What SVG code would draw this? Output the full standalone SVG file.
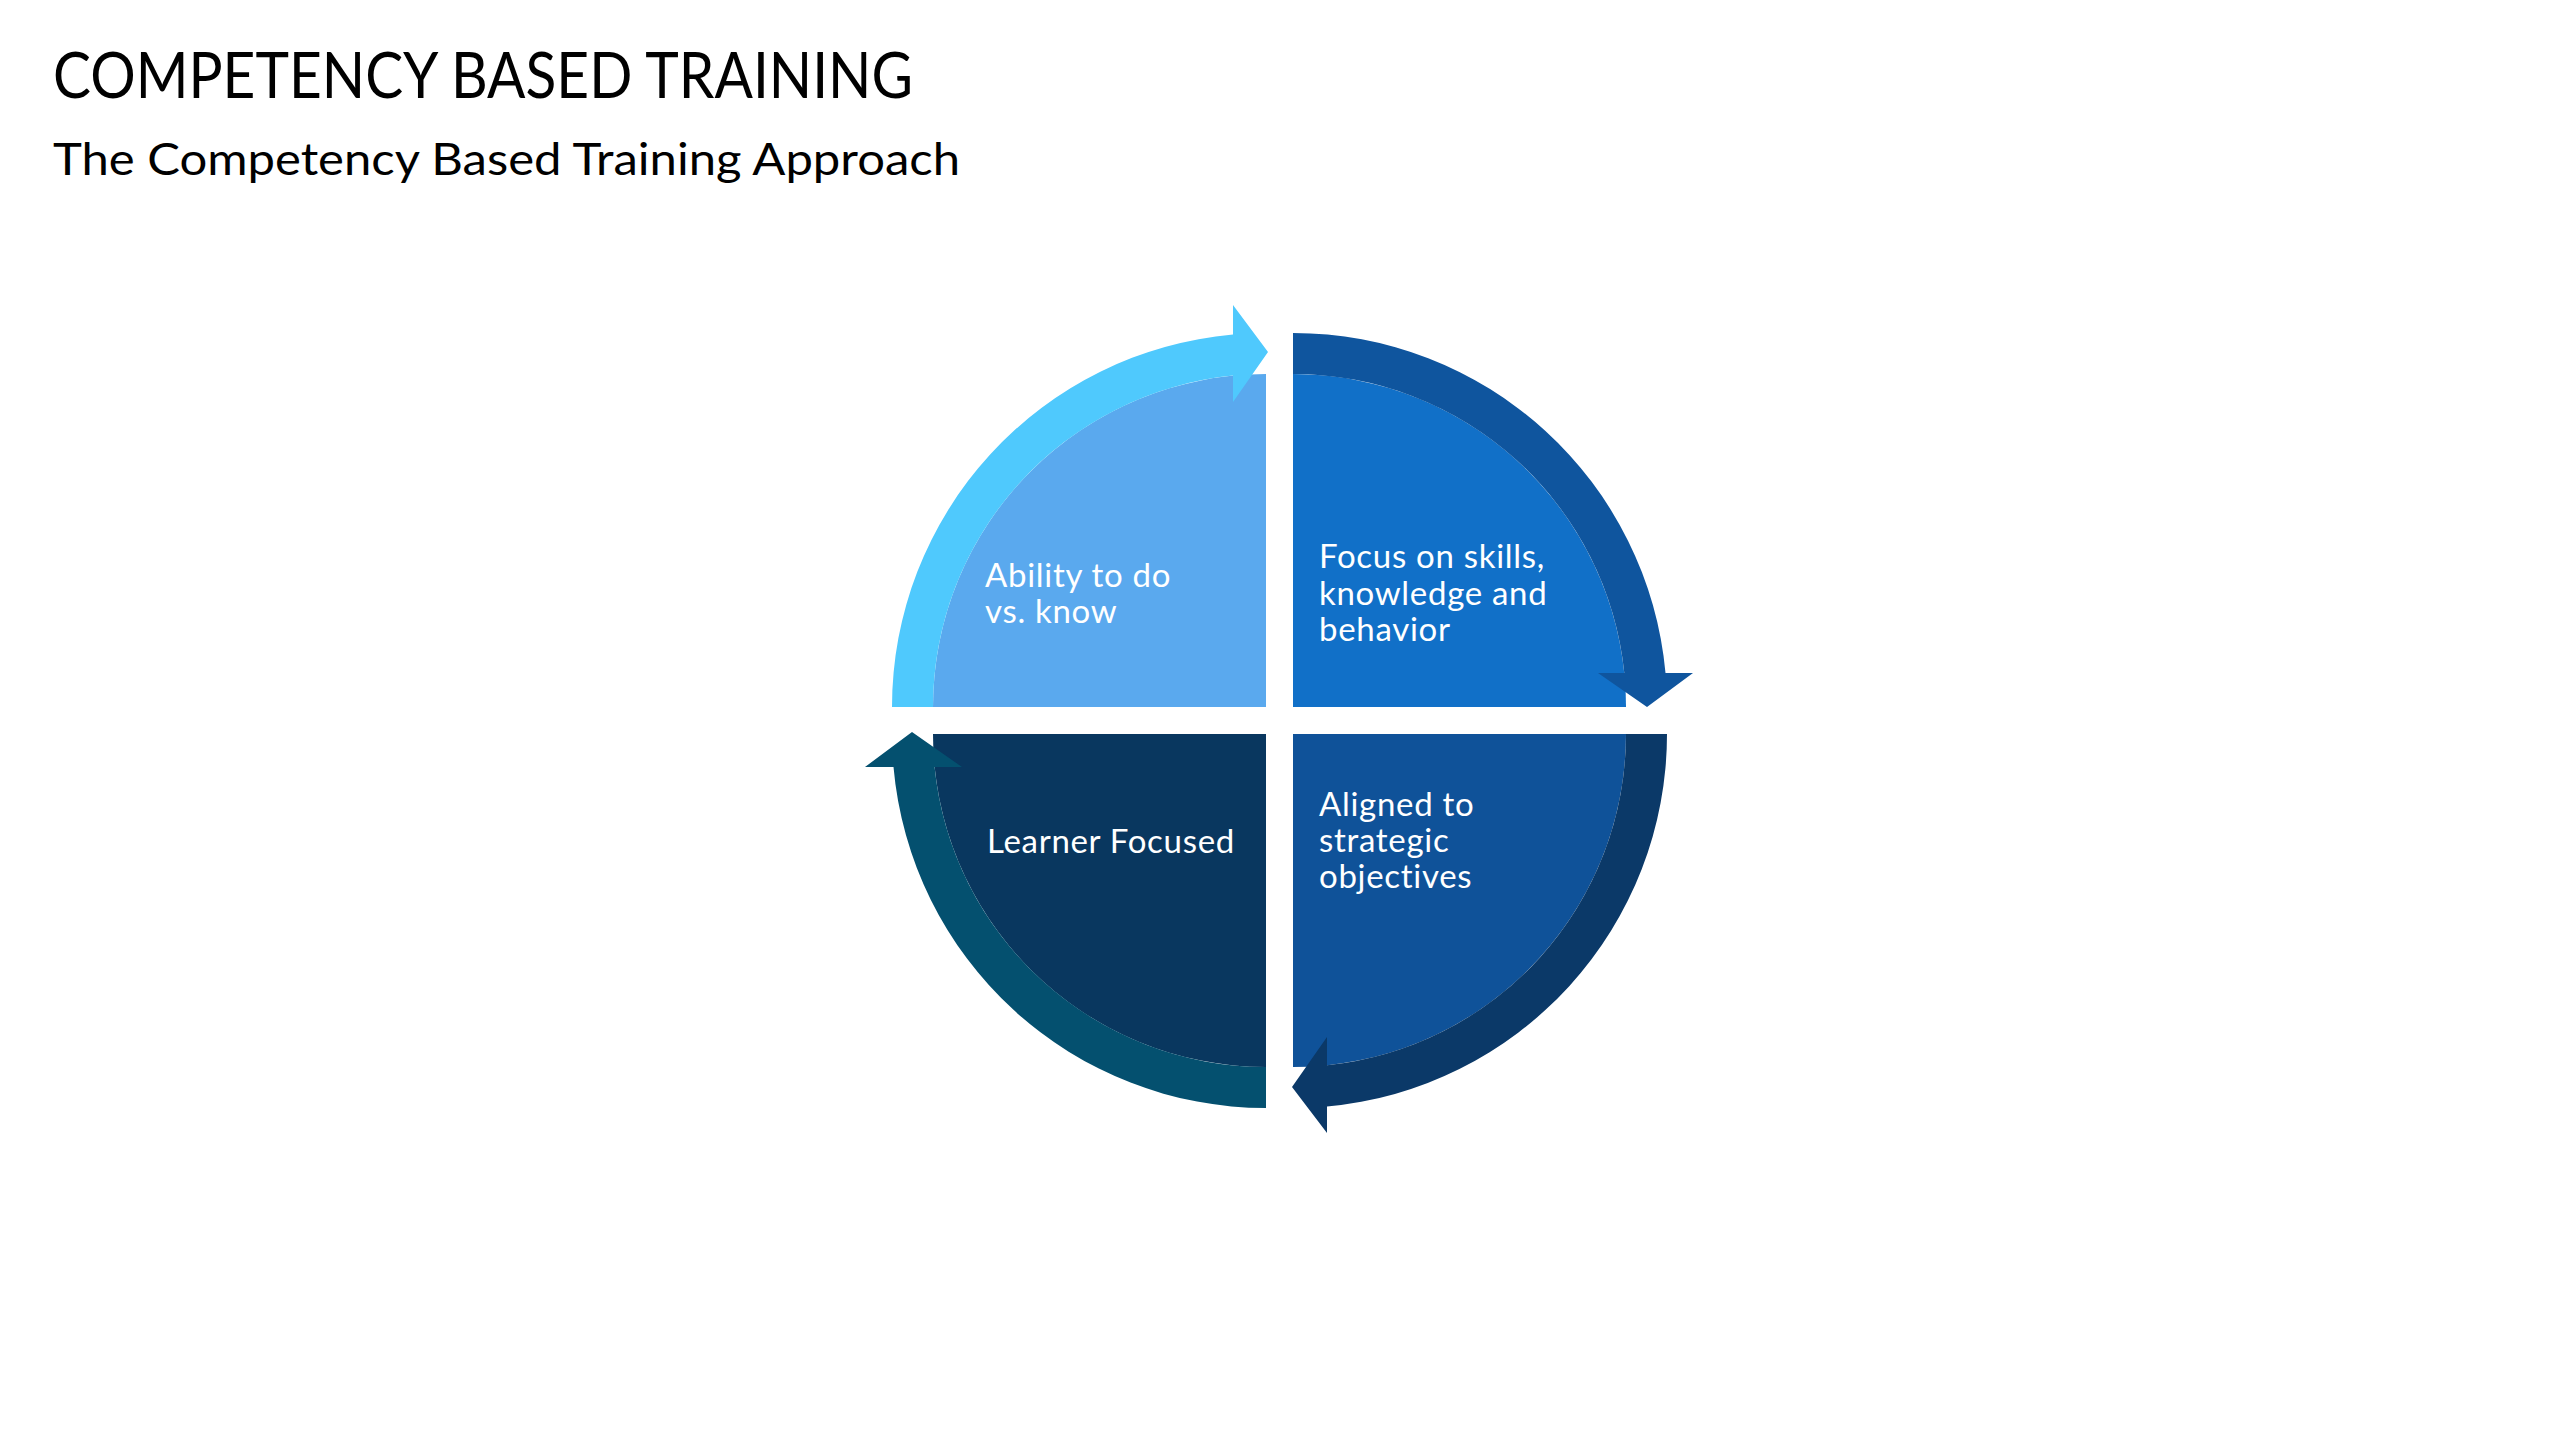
<svg xmlns="http://www.w3.org/2000/svg" width="2560" height="1440" viewBox="0 0 2560 1440">
<style>
.t{font-family:"Lato","Carlito","Liberation Sans",sans-serif;fill:#000}
.lbl{font-family:"Lato","Carlito","Liberation Sans",sans-serif;font-size:33px;letter-spacing:0.7px;fill:#fff}
</style>
<rect width="2560" height="1440" fill="#fff"/>
<text class="t" x="53" y="98" font-size="64" textLength="860" lengthAdjust="spacingAndGlyphs">COMPETENCY BASED TRAINING</text>
<text class="t" x="53" y="175" font-size="45" textLength="907" lengthAdjust="spacingAndGlyphs">The Competency Based Training Approach</text>

<g id="node-ability">
<path d="M 1266 707 L 933 707 A 333 333 0 0 1 1266 374 Z" fill="#5AA9EE"/>
<text class="lbl" x="985" y="587">Ability to do</text>
<text class="lbl" x="985" y="623">vs. know</text>
</g>
<g id="node-focus">
<path d="M 1293 707 L 1293 374 A 333 333 0 0 1 1626 707 Z" fill="#1170C8"/>
<text class="lbl" x="1319" y="568">Focus on skills,</text>
<text class="lbl" x="1319" y="605">knowledge and</text>
<text class="lbl" x="1319" y="641">behavior</text>
</g>
<g id="node-aligned">
<path d="M 1293 734 L 1626 734 A 333 333 0 0 1 1293 1067 Z" fill="#0F5299"/>
<text class="lbl" x="1319" y="816">Aligned to</text>
<text class="lbl" x="1319" y="852">strategic</text>
<text class="lbl" x="1319" y="888">objectives</text>
</g>
<g id="node-learner">
<path d="M 1266 734 L 1266 1067 A 333 333 0 0 1 933 734 Z" fill="#09375F"/>
<text class="lbl" x="987" y="853">Learner Focused</text>
</g>

<g id="connectors">
<path d="M 892 707 A 374 374 0 0 1 1233 334.5 L 1233 305 L 1268 352 L 1233 402 L 1233 375.6 A 333 333 0 0 0 933 707 Z" fill="#4FC9FD"/>
<path d="M 1293 333 A 374 374 0 0 1 1665.5 673 L 1693 673 L 1647 707 L 1598 673 L 1624.3 673 A 333 333 0 0 0 1293 374 Z" fill="#0F559E"/>
<path d="M 1667 734 A 374 374 0 0 1 1327 1106.5 L 1327 1133 L 1292 1087 L 1327 1037 L 1327 1065.3 A 333 333 0 0 0 1626 734 Z" fill="#0B3968"/>
<path d="M 1266 1108 A 374 374 0 0 1 893.5 767 L 865 767 L 912 732 L 962 767 L 934.6 767 A 333 333 0 0 0 1266 1067 Z" fill="#04506F"/>
</g>
</svg>
